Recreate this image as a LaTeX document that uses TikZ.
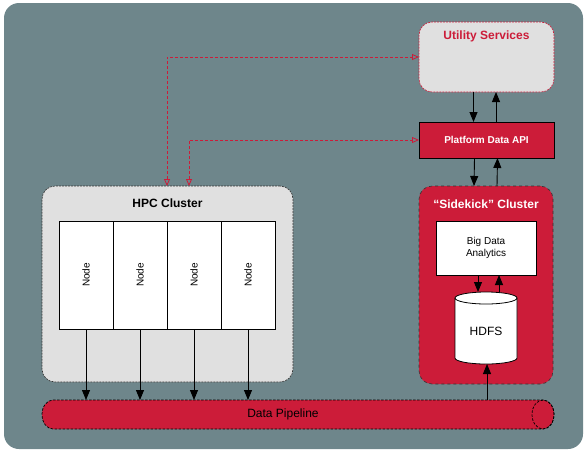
\documentclass[tikz,border=0pt]{standalone}
\usepackage{fontspec}
\setmainfont{Liberation Sans}
\usetikzlibrary{arrows.meta,calc}
\definecolor{bggray}{HTML}{6E868B}
\definecolor{boxgray}{HTML}{E0E0E0}
\definecolor{pred}{HTML}{CC1C39}
\definecolor{edgegray}{HTML}{333333}
\begin{document}
\begin{tikzpicture}[x=1pt,y=-1pt,
  every node/.style={inner sep=0pt,outer sep=0pt},
  graybox/.style={draw=edgegray,fill=boxgray,dashed,dash pattern=on 2pt off 1pt,rounded corners=13pt,line width=0.6pt},
  redbox/.style={draw=edgegray,fill=pred,dash pattern=on 2pt off 1pt,rounded corners=13pt,line width=0.6pt},
  whitebox/.style={draw=black,fill=white,line width=0.8pt},
  nodebox/.style={whitebox,minimum width=54pt,minimum height=108pt},
  arr/.style={-{Triangle[length=10pt,width=8pt]},line width=0.9pt,black},
  dasharr/.style={{Triangle[open,length=7pt,width=6pt]}-{Triangle[open,length=7pt,width=6pt]},pred,dashed,dash pattern=on 3pt off 2pt,line width=0.8pt},
  ttl/.style={font=\fontsize{12}{14}\selectfont\bfseries},
  txt/.style={font=\fontsize{10}{12}\selectfont,align=center}]
\useasboundingbox (0,0) rectangle (588,453);
\fill[bggray,rounded corners=15pt] (4,3) rectangle (583,449);

% Utility services
\node[graybox,draw=pred,minimum width=135pt,minimum height=70pt] (util) at (486.5,57) {};
\node[ttl,text=pred] (utilt) at (486.5,36) {Utility Services};

% Platform Data API
\node[draw=black,fill=pred,line width=0.8pt,minimum width=135pt,minimum height=36pt,font=\fontsize{10}{12}\selectfont\bfseries,text=white] (api) at (486.5,140) {Platform Data API};

% Sidekick cluster
\node[redbox,dashed,minimum width=134pt,minimum height=198pt] (side) at (486,285) {};
\node[ttl,text=white] (sidet) at (486,204) {“Sidekick” Cluster};
\node[whitebox,minimum width=100pt,minimum height=54pt,txt] (bda) at (486,248) {Big Data\\Analytics};

% HDFS cylinder (radii in canvas pt: y up)
\node[minimum width=62pt,minimum height=72pt] (hdfs) at (486,328) {};
\filldraw[fill=white,draw=black,line width=0.8pt] (455,298) -- (455,358) arc[start angle=180,end angle=360,x radius=31pt,y radius=6pt] -- (517,298) arc[start angle=0,end angle=180,x radius=31pt,y radius=6pt] -- cycle;
\draw[black,line width=0.8pt] (455,298) arc[start angle=180,end angle=360,x radius=31pt,y radius=6pt];
\node[font=\fontsize{12}{14}\selectfont] (hdfst) at (486,331) {HDFS};

% HPC cluster
\node[graybox,minimum width=251pt,minimum height=196pt] (hpc) at (167.5,284) {};
\node[ttl] (hpct) at (167.5,203) {HPC Cluster};
\foreach \i/\x in {1/86,2/140,3/194,4/248}{
  \node[nodebox] (n\i) at (\x,275) {};
  \node[txt,rotate=90] (nt\i) at (\x,275) {Node};
}

% Data pipeline
\node[minimum width=512pt,minimum height=29pt] (pipe) at (298,414.5) {};
\filldraw[fill=pred,draw=black,dashed,dash pattern=on 2.5pt off 1.5pt,line width=0.7pt]
  (53,400) -- (543,400) arc[start angle=90,end angle=-90,x radius=11pt,y radius=14.5pt]
  -- (53,429) arc[start angle=270,end angle=90,x radius=11pt,y radius=14.5pt] -- cycle;
\draw[black,dashed,dash pattern=on 2.5pt off 1.5pt,line width=0.7pt] (543,414.5) ellipse[x radius=11pt,y radius=14.5pt];
\node[font=\fontsize{12}{14}\selectfont] (pipet) at (283,414.5) {Data Pipeline};

% arrows
\draw[arr] ([xshift=-13pt]util.south) -- ([xshift=-13pt]api.north);
\draw[arr] ([xshift=9.5pt]api.north) -- ([xshift=9.5pt]util.south);
\draw[arr] ([xshift=-12pt]api.south) -- ([xshift=-12pt]side.north);
\draw[arr] ([xshift=11pt]side.north) -- ([xshift=11pt]api.south);
\draw[arr] ([xshift=-8pt]bda.south) -- ([xshift=-8pt]hdfs.north);
\draw[arr] ([xshift=13pt]hdfs.north) -- ([xshift=13pt]bda.south);
\draw[arr] (pipe.north -| hdfs.south) ++(1pt,0) -- ([xshift=1pt]hdfs.south);
\foreach \i in {1,2,3,4}{
  \draw[arr] (n\i.south) -- (n\i.south |- pipe.north);
}
\draw[dasharr] ([xshift=125pt]hpc.north west) |- (util.west);
\draw[dasharr] ([xshift=147pt]hpc.north west) |- (api.west);
\end{tikzpicture}
\end{document}
